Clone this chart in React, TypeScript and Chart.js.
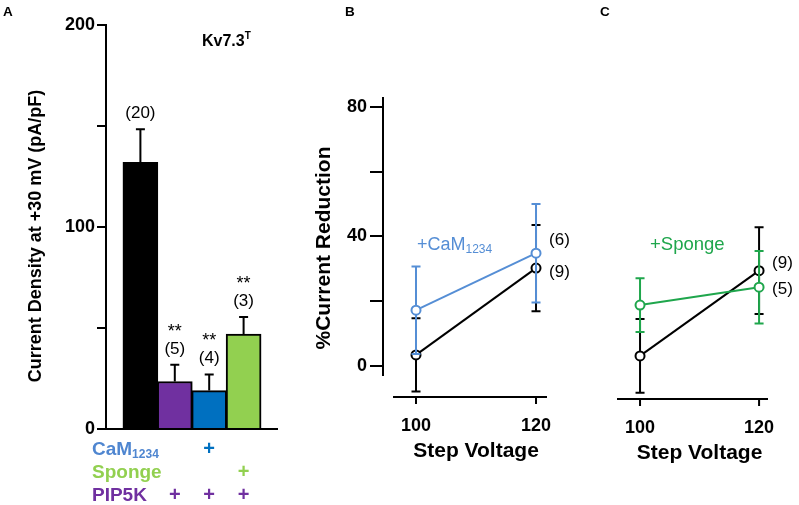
import React, { useEffect, useRef } from 'react';
import { Chart, registerables } from 'chart.js';

Chart.register(...registerables);

const FONT = '"Liberation Sans", Arial, Helvetica, sans-serif';

// ---------------- Panel A data ----------------
const barPositions = [0, 1, 2, 3];
const barGroups = ['Kv7.3T', 'PIP5K', 'PIP5K + CaM1234', 'PIP5K + Sponge'];
const barValues = [132, 23.5, 19, 47];
const barErrors = [16.4, 8.3, 8, 8.4];
const barCounts = ['(20)', '(5)', '(4)', '(3)'];
const barStars = ['', '**', '**', '**'];
const barColors = ['#000000', '#7030a0', '#0070c0', '#92d050'];
const densityTicks = [0, 50, 100, 150, 200];
const densityTickLabels = ['0', '', '100', '', '200'];
const camMarks = [false, false, true, false];
const spongeMarks = [false, false, false, true];
const pip5kMarks = [false, true, true, true];

// ---------------- Panels B and C data ----------------
const stepVoltages = [100, 120];
const reductionTicks = [0, 20, 40, 60, 80];
const reductionTickLabels = ['0', '', '40', '', '80'];
const controlB = [3.4, 30.2];
const controlBErr = [11.3, 13.3];
const camB = [17.2, 34.8];
const camBErr = [13.5, 15.2];
const controlC = [3.1, 29.4];
const controlCErr = [11.4, 13.4];
const spongeC = [18.8, 24.3];
const spongeCErr = [8.3, 11.2];
const countsB = ['(6)', '(9)'];
const countsC = ['(5)', '(9)'];

// ---------------- styles ----------------
const CAM_LINE = '#558ed5';
const SPONGE_LINE = '#1fa64c';
const CAM_TEXT = '#4f86d0';

type Part = { t: string; size: number; bold?: boolean; dy?: number };

function rich(
  ctx: CanvasRenderingContext2D,
  x: number,
  y: number,
  parts: Part[],
  color: string,
  align: 'left' | 'center' = 'left'
) {
  ctx.save();
  ctx.fillStyle = color;
  ctx.textBaseline = 'alphabetic';
  ctx.textAlign = 'left';
  const fonts = parts.map((p) => `${p.bold ? 'bold ' : ''}${p.size}px ${FONT}`);
  const widths = parts.map((p, i) => {
    ctx.font = fonts[i];
    return ctx.measureText(p.t).width;
  });
  const total = widths.reduce((a, b) => a + b, 0);
  let cx = align === 'center' ? x - total / 2 : x;
  parts.forEach((p, i) => {
    ctx.font = fonts[i];
    ctx.fillText(p.t, cx, y + (p.dy || 0));
    cx += widths[i];
  });
  ctx.restore();
}

function rotated(ctx: CanvasRenderingContext2D, text: string, cx: number, cy: number, size: number) {
  ctx.save();
  ctx.translate(cx, cy);
  ctx.rotate(-Math.PI / 2);
  ctx.font = `bold ${size}px ${FONT}`;
  ctx.fillStyle = '#000';
  ctx.textAlign = 'center';
  ctx.textBaseline = 'middle';
  ctx.fillText(text, 0, 0);
  ctx.restore();
}

const errorBarPlugin = {
  id: 'errorBars',
  beforeDatasetDraw(chart: any, args: any) {
    const ds = chart.data.datasets[args.index];
    if (!ds.errors) return;
    const meta = chart.getDatasetMeta(args.index);
    const ys = chart.scales.y;
    const ctx: CanvasRenderingContext2D = chart.ctx;
    ctx.save();
    ctx.strokeStyle = ds.errorColor || ds.borderColor;
    ctx.lineWidth = 2;
    meta.data.forEach((el: any, i: number) => {
      const v = ds.data[i].y;
      const e = ds.errors[i];
      const x = el.x;
      const top = ys.getPixelForValue(v + e);
      const bot = ds.errorUpOnly ? ys.getPixelForValue(v) : ys.getPixelForValue(v - e);
      ctx.beginPath();
      ctx.moveTo(x, top);
      ctx.lineTo(x, bot);
      ctx.moveTo(x - 4.5, top);
      ctx.lineTo(x + 4.5, top);
      if (!ds.errorUpOnly) {
        ctx.moveTo(x - 4.5, bot);
        ctx.lineTo(x + 4.5, bot);
      }
      ctx.stroke();
    });
    ctx.restore();
  },
};

const panelAPlugin = {
  id: 'panelA',
  afterDraw(chart: any) {
    const { ctx, chartArea, scales } = chart;
    const x = scales.x;
    const y = scales.y;
    ctx.save();
    const y0 = y.getPixelForValue(0);
    ctx.strokeStyle = '#000';
    ctx.lineWidth = 2;
    ctx.beginPath();
    ctx.moveTo(chartArea.left - 9, y0);
    ctx.lineTo(chartArea.right, y0);
    ctx.stroke();
    ctx.restore();

    barPositions.forEach((p, i) => {
      const cx = x.getPixelForValue(p);
      const top = y.getPixelForValue(barValues[i] + barErrors[i]);
      rich(ctx, cx, top - 11, [{ t: barCounts[i], size: 17 }], '#000', 'center');
      if (barStars[i]) rich(ctx, cx, top - 28, [{ t: barStars[i], size: 18 }], '#000', 'center');
    });

    rich(ctx, 3, 16, [{ t: 'A', size: 13.5, bold: true }], '#000');
    rich(ctx, 202, 46, [
      { t: 'Kv7.3', size: 16, bold: true },
      { t: 'T', size: 10, bold: true, dy: -7 },
    ], '#000');

    rotated(ctx, 'Current Density at +30 mV (pA/pF)', 36, 236, 18);

    const rows: { parts: Part[]; color: string; marks: boolean[]; markColor: string; base: number }[] = [
      { parts: [{ t: 'CaM', size: 19, bold: true }, { t: '1234', size: 12, bold: true, dy: 3 }], color: CAM_TEXT, marks: camMarks, markColor: '#0070c0', base: 455 },
      { parts: [{ t: 'Sponge', size: 19, bold: true }], color: '#92d050', marks: spongeMarks, markColor: '#92d050', base: 478 },
      { parts: [{ t: 'PIP5K', size: 19, bold: true }], color: '#7030a0', marks: pip5kMarks, markColor: '#7030a0', base: 501 },
    ];
    rows.forEach((r) => {
      rich(ctx, 92, r.base, r.parts, r.color);
      r.marks.forEach((m, i) => {
        if (m) rich(ctx, x.getPixelForValue(barPositions[i]), r.base, [{ t: '+', size: 20, bold: true }], r.markColor, 'center');
      });
    });
  },
};

function makeLinePanelPlugin(cfg: {
  id: string;
  letter: string;
  letterX: number;
  axisAt: number;
  axisStart: number;
  counts: string[];
  countOffsets: number[];
  series: number[][];
  tag: Part[];
  tagColor: string;
  tagX: number;
  yTitle?: string;
}) {
  return {
    id: cfg.id,
    afterDraw(chart: any) {
      const { ctx, chartArea, scales } = chart;
      const x = scales.x;
      const y = scales.y;
      const ay = y.getPixelForValue(cfg.axisAt);
      ctx.save();
      ctx.strokeStyle = '#000';
      ctx.lineWidth = 2;
      ctx.beginPath();
      ctx.moveTo(x.getPixelForValue(cfg.axisStart), ay);
      ctx.lineTo(chartArea.right, ay);
      stepVoltages.forEach((v) => {
        const px = x.getPixelForValue(v);
        ctx.moveTo(px, ay);
        ctx.lineTo(px, ay + 7);
      });
      ctx.stroke();
      ctx.restore();
      stepVoltages.forEach((v) => {
        rich(ctx, x.getPixelForValue(v), ay + 34, [{ t: String(v), size: 18, bold: true }], '#000', 'center');
      });
      const mid = (x.getPixelForValue(stepVoltages[0]) + x.getPixelForValue(stepVoltages[1])) / 2;
      rich(ctx, mid, ay + 60, [{ t: 'Step Voltage', size: 21, bold: true }], '#000', 'center');

      const lastX = x.getPixelForValue(stepVoltages[stepVoltages.length - 1]);
      cfg.counts.forEach((c, i) => {
        const s = cfg.series[i];
        const py = y.getPixelForValue(s[s.length - 1]);
        rich(ctx, lastX + 13, py + cfg.countOffsets[i], [{ t: c, size: 17 }], '#000');
      });
      rich(ctx, cfg.tagX, 249.5, cfg.tag, cfg.tagColor);
      rich(ctx, cfg.letterX, 16, [{ t: cfg.letter, size: 13.5, bold: true }], '#000');
      if (cfg.yTitle) rotated(ctx, cfg.yTitle, 324, 248, 21);
    },
  };
}

const xy = (vals: number[]) => stepVoltages.map((v, i) => ({ x: v, y: vals[i] }));

const lineDataset = (label: string, vals: number[], errs: number[], color: string) => ({
  label,
  data: xy(vals),
  errors: errs,
  borderColor: color,
  backgroundColor: color,
  pointBorderColor: color,
  pointBackgroundColor: '#ffffff',
  pointRadius: 4.5,
  pointBorderWidth: 2,
  borderWidth: 2,
  tension: 0,
  clip: false,
});

const yTickFont = { family: FONT, size: 18, weight: 'bold' as const };

function reductionY(display: boolean, tickLen: number) {
  const cfg: any = {
    type: 'linear' as const,
    display,
    min: -2.8,
    max: 82.7,
    afterBuildTicks: (s: any) => {
      s.ticks = reductionTicks.map((v) => ({ value: v }));
    },
    ticks: {
      callback: (v: any) => reductionTickLabels[reductionTicks.indexOf(Number(v))] ?? '',
      font: yTickFont,
      color: '#000',
      padding: 3,
    },
    grid: { drawOnChartArea: false, color: '#000', lineWidth: 2, tickLength: tickLen },
    border: { display: true, color: '#000', width: 2 },
  };
  if (display) {
    cfg.afterFit = (s: any) => {
      s.width = 383;
    };
  }
  return cfg;
}

export default function App() {
  const refA = useRef<HTMLCanvasElement>(null);
  const refB = useRef<HTMLCanvasElement>(null);
  const refC = useRef<HTMLCanvasElement>(null);

  useEffect(() => {
    document.body.style.margin = '0';
    const charts: Chart[] = [];

    charts.push(
      new Chart(refA.current!, {
        type: 'bar',
        data: {
          labels: barGroups,
          datasets: [
            {
              label: 'Current density',
              data: barPositions.map((p, i) => ({ x: p, y: barValues[i] })),
              backgroundColor: barColors,
              borderColor: '#000',
              borderWidth: 2,
              barThickness: 35,
              errors: barErrors,
              errorUpOnly: true,
              errorColor: '#000',
            } as any,
          ],
        },
        options: {
          responsive: false,
          animation: false,
          events: [],
          layout: { padding: { left: 0, top: 25, right: 521, bottom: 76 } },
          plugins: { legend: { display: false }, tooltip: { enabled: false } },
          scales: {
            x: { type: 'linear', min: -1, max: 4, display: false, offset: false },
            y: {
              min: 0,
              max: 200,
              afterFit: (s: any) => {
                s.width = 106;
              },
              afterBuildTicks: (s: any) => {
                s.ticks = densityTicks.map((v) => ({ value: v }));
              },
              ticks: {
                callback: (v: any) => densityTickLabels[densityTicks.indexOf(Number(v))] ?? '',
                font: yTickFont,
                color: '#000',
                padding: 2,
              },
              grid: { drawOnChartArea: false, color: '#000', lineWidth: 2, tickLength: 9 },
              border: { display: true, color: '#000', width: 2 },
            } as any,
          },
        },
        plugins: [errorBarPlugin, panelAPlugin],
      })
    );

    charts.push(
      new Chart(refB.current!, {
        type: 'line',
        data: {
          datasets: [
            lineDataset('+CaM1234', camB, camBErr, CAM_LINE),
            lineDataset('Control', controlB, controlBErr, '#000000'),
          ] as any,
        },
        options: {
          responsive: false,
          animation: false,
          events: [],
          layout: { padding: { left: 0, top: 98, right: 252, bottom: 130 } },
          plugins: { legend: { display: false }, tooltip: { enabled: false } },
          scales: {
            x: { type: 'linear', min: 94.5, max: 121.83, display: false },
            y: reductionY(true, 13),
          },
        },
        plugins: [
          errorBarPlugin,
          makeLinePanelPlugin({
            id: 'panelB',
            letter: 'B',
            letterX: 345,
            axisAt: -9.6,
            axisStart: 96.17,
            counts: countsB,
            countOffsets: [-8, 9],
            series: [camB, controlB],
            tag: [{ t: '+CaM', size: 18 }, { t: '1234', size: 12, dy: 3 }],
            tagColor: CAM_LINE,
            tagX: 417,
            yTitle: '%Current Reduction',
          }),
        ],
      })
    );

    charts.push(
      new Chart(refC.current!, {
        type: 'line',
        data: {
          datasets: [
            lineDataset('+Sponge', spongeC, spongeCErr, SPONGE_LINE),
            lineDataset('Control', controlC, controlCErr, '#000000'),
          ] as any,
        },
        options: {
          responsive: false,
          animation: false,
          events: [],
          layout: { padding: { left: 617, top: 98, right: 31, bottom: 130 } },
          plugins: { legend: { display: false }, tooltip: { enabled: false } },
          scales: {
            x: { type: 'linear', min: 96.13, max: 121.5, display: false },
            y: reductionY(false, 13),
          },
        },
        plugins: [
          errorBarPlugin,
          makeLinePanelPlugin({
            id: 'panelC',
            letter: 'C',
            letterX: 600,
            axisAt: -10.2,
            axisStart: 96.13,
            counts: countsC,
            countOffsets: [7, -3],
            series: [spongeC, controlC],
            tag: [{ t: '+Sponge', size: 18.5 }],
            tagColor: SPONGE_LINE,
            tagX: 650,
          }),
        ],
      })
    );

    return () => charts.forEach((c) => c.destroy());
  }, []);

  const canvasStyle: React.CSSProperties = { position: 'absolute', left: 0, top: 0, width: 799, height: 505 };
  return (
    <div style={{ position: 'absolute', left: 0, top: 0, width: 799, height: 505, background: '#fff' }}>
      <canvas ref={refA} width={799} height={505} style={canvasStyle} />
      <canvas ref={refB} width={799} height={505} style={canvasStyle} />
      <canvas ref={refC} width={799} height={505} style={canvasStyle} />
    </div>
  );
}
